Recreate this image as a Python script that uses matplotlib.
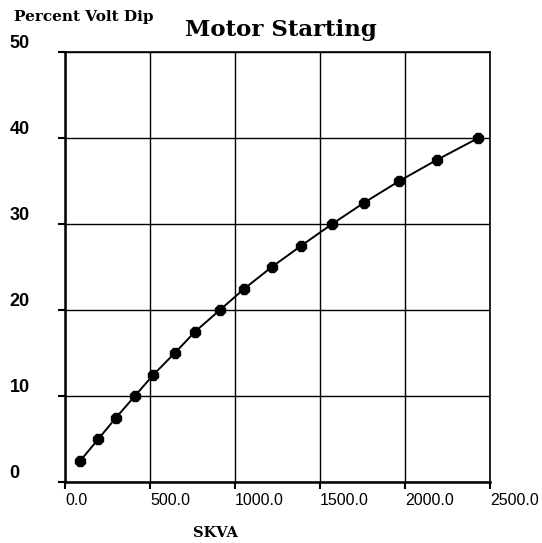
import matplotlib
matplotlib.use("Agg")
import matplotlib.pyplot as plt

# Datos
skva = [90, 195, 300, 410, 520, 645, 765, 910, 1055, 1215, 1390, 1570, 1760, 1965, 2190, 2430]
volt_dip = [2.5, 5.0, 7.5, 10.0, 12.5, 15.0, 17.5, 20.0, 22.5, 25.0, 27.5, 30.0, 32.5, 35.0, 37.5, 40.0]
x_ticks = [0, 500, 1000, 1500, 2000, 2500]
x_tick_labels = ["0.0", "500.0", "1000.0", "1500.0", "2000.0", "2500.0"]
y_ticks = [0, 10, 20, 30, 40, 50]

SERIF = "DejaVu Serif"
SANS = "Liberation Sans"

fig = plt.figure(figsize=(5.42, 5.43), dpi=100)
ax = fig.add_axes([0.12, 0.112, 0.784, 0.792])

# Curva con marcadores
ax.plot(skva, volt_dip, color="black", lw=1.4, marker="8", markersize=8,
        markerfacecolor="black", markeredgecolor="black", zorder=3)

ax.set_xlim(0, 2500)
ax.set_ylim(0, 50)
ax.set_xticks(x_ticks)
ax.set_xticklabels(x_tick_labels)
ax.set_yticks(y_ticks)

# Rejilla negra
ax.grid(True, color="black", lw=1.0)
for s in ax.spines.values():
    s.set_color("black")
    s.set_linewidth(1.2)
ax.spines["left"].set_linewidth(1.8)
ax.spines["bottom"].set_linewidth(1.8)

ax.tick_params(axis="x", length=5, width=1.5, pad=3, labelsize=11.5)
ax.tick_params(axis="y", length=5, width=1.5, pad=35, labelsize=13)
for lbl in ax.get_xticklabels():
    lbl.set_ha("left")
    lbl.set_family(SANS)
for lbl in ax.get_yticklabels():
    lbl.set_ha("left")
    lbl.set_va("bottom")
    lbl.set_family(SANS)
    lbl.set_weight("bold")

# Textos
fig.text(0.518, 0.945, "Motor Starting", ha="center", va="center",
         family=SERIF, weight="bold", fontsize=16.5)
fig.text(0.026, 0.968, "Percent Volt Dip", ha="left", va="center",
         family=SERIF, weight="bold", fontsize=11)
fig.text(0.397, 0.018, "SKVA", ha="center", va="center",
         family=SERIF, weight="bold", fontsize=10.5)

fig.savefig("out.png", dpi=100, facecolor="white")
